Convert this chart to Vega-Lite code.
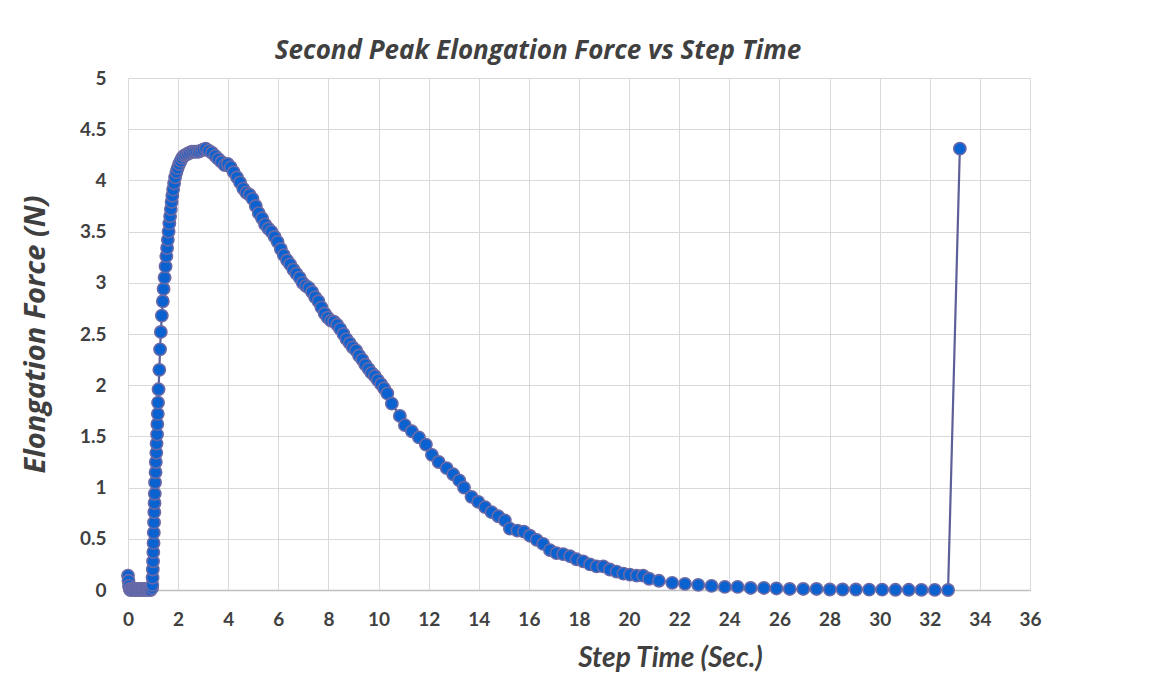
{
  "$schema": "https://vega.github.io/schema/vega-lite/v6.json",
  "autosize": {"type": "none"},
  "padding": {"left": 128, "top": 78, "right": 127, "bottom": 89},
  "width": 902,
  "height": 512,
  "background": "white",
  "title": {
    "text": "Second Peak Elongation Force vs Step Time",
    "font": "Open Sans",
    "fontSize": 26,
    "fontWeight": "bold",
    "fontStyle": "italic",
    "color": "#404040",
    "anchor": "middle",
    "dx": -41,
    "offset": 5
  },
  "data": {
    "values": [
      {"t": 0.00, "f": 0.14}, {"t": 0.02, "f": 0.09}, {"t": 0.04, "f": 0.04}, {"t": 0.07, "f": 0.01},
      {"t": 0.10, "f": 0.0}, {"t": 0.15, "f": 0.01}, {"t": 0.20, "f": 0.0}, {"t": 0.25, "f": 0.01},
      {"t": 0.30, "f": 0.0}, {"t": 0.35, "f": 0.01}, {"t": 0.40, "f": 0.0}, {"t": 0.45, "f": 0.01},
      {"t": 0.50, "f": 0.0}, {"t": 0.55, "f": 0.01}, {"t": 0.60, "f": 0.0}, {"t": 0.65, "f": 0.01},
      {"t": 0.70, "f": 0.0}, {"t": 0.75, "f": 0.01}, {"t": 0.80, "f": 0.0}, {"t": 0.85, "f": 0.01},
      {"t": 0.90, "f": 0.0}, {"t": 0.96, "f": 0.02}, {"t": 0.97, "f": 0.05}, {"t": 0.98, "f": 0.12},
      {"t": 0.99, "f": 0.20}, {"t": 1.00, "f": 0.28}, {"t": 1.01, "f": 0.37}, {"t": 1.02, "f": 0.46},
      {"t": 1.03, "f": 0.56}, {"t": 1.04, "f": 0.66}, {"t": 1.05, "f": 0.76}, {"t": 1.06, "f": 0.85},
      {"t": 1.07, "f": 0.94}, {"t": 1.08, "f": 1.05}, {"t": 1.10, "f": 1.15}, {"t": 1.11, "f": 1.25},
      {"t": 1.13, "f": 1.34}, {"t": 1.14, "f": 1.43}, {"t": 1.16, "f": 1.52}, {"t": 1.17, "f": 1.62},
      {"t": 1.19, "f": 1.72}, {"t": 1.20, "f": 1.83}, {"t": 1.22, "f": 1.96}, {"t": 1.25, "f": 2.15},
      {"t": 1.28, "f": 2.35}, {"t": 1.31, "f": 2.52}, {"t": 1.35, "f": 2.68}, {"t": 1.39, "f": 2.82},
      {"t": 1.42, "f": 2.94}, {"t": 1.46, "f": 3.05}, {"t": 1.50, "f": 3.16}, {"t": 1.53, "f": 3.26},
      {"t": 1.56, "f": 3.34}, {"t": 1.59, "f": 3.42}, {"t": 1.62, "f": 3.50}, {"t": 1.65, "f": 3.58},
      {"t": 1.68, "f": 3.65}, {"t": 1.71, "f": 3.72}, {"t": 1.74, "f": 3.79}, {"t": 1.77, "f": 3.85},
      {"t": 1.80, "f": 3.91}, {"t": 1.84, "f": 3.97}, {"t": 1.88, "f": 4.03}, {"t": 1.93, "f": 4.08},
      {"t": 1.98, "f": 4.12}, {"t": 2.04, "f": 4.16}, {"t": 2.10, "f": 4.19}, {"t": 2.16, "f": 4.22},
      {"t": 2.23, "f": 4.24}, {"t": 2.30, "f": 4.25}, {"t": 2.38, "f": 4.26}, {"t": 2.46, "f": 4.27},
      {"t": 2.55, "f": 4.28}, {"t": 2.64, "f": 4.28}, {"t": 2.73, "f": 4.28}, {"t": 2.82, "f": 4.28},
      {"t": 2.91, "f": 4.29}, {"t": 3.00, "f": 4.30}, {"t": 3.10, "f": 4.31}, {"t": 3.22, "f": 4.29},
      {"t": 3.35, "f": 4.27}, {"t": 3.48, "f": 4.24}, {"t": 3.60, "f": 4.21}, {"t": 3.73, "f": 4.18},
      {"t": 3.86, "f": 4.15}, {"t": 3.98, "f": 4.16}, {"t": 4.10, "f": 4.13}, {"t": 4.22, "f": 4.08},
      {"t": 4.35, "f": 4.03}, {"t": 4.47, "f": 3.98}, {"t": 4.60, "f": 3.92}, {"t": 4.72, "f": 3.88},
      {"t": 4.85, "f": 3.86}, {"t": 4.97, "f": 3.82}, {"t": 5.10, "f": 3.75}, {"t": 5.22, "f": 3.68},
      {"t": 5.35, "f": 3.63}, {"t": 5.47, "f": 3.57}, {"t": 5.60, "f": 3.53}, {"t": 5.72, "f": 3.50},
      {"t": 5.85, "f": 3.45}, {"t": 5.97, "f": 3.40}, {"t": 6.10, "f": 3.33}, {"t": 6.22, "f": 3.27},
      {"t": 6.35, "f": 3.22}, {"t": 6.47, "f": 3.18}, {"t": 6.60, "f": 3.13}, {"t": 6.72, "f": 3.09},
      {"t": 6.85, "f": 3.05}, {"t": 6.97, "f": 3.00}, {"t": 7.10, "f": 2.97}, {"t": 7.22, "f": 2.95},
      {"t": 7.35, "f": 2.91}, {"t": 7.47, "f": 2.86}, {"t": 7.60, "f": 2.82}, {"t": 7.72, "f": 2.76},
      {"t": 7.85, "f": 2.70}, {"t": 7.97, "f": 2.66}, {"t": 8.10, "f": 2.63}, {"t": 8.22, "f": 2.62},
      {"t": 8.35, "f": 2.59}, {"t": 8.47, "f": 2.55}, {"t": 8.60, "f": 2.50}, {"t": 8.72, "f": 2.45},
      {"t": 8.85, "f": 2.41}, {"t": 8.97, "f": 2.37}, {"t": 9.10, "f": 2.34}, {"t": 9.22, "f": 2.29},
      {"t": 9.35, "f": 2.25}, {"t": 9.47, "f": 2.20}, {"t": 9.60, "f": 2.16}, {"t": 9.72, "f": 2.12},
      {"t": 9.85, "f": 2.09}, {"t": 9.97, "f": 2.05}, {"t": 10.10, "f": 2.01}, {"t": 10.22, "f": 1.97},
      {"t": 10.35, "f": 1.92}, {"t": 10.53, "f": 1.82}, {"t": 10.85, "f": 1.70}, {"t": 11.05, "f": 1.61},
      {"t": 11.33, "f": 1.55}, {"t": 11.61, "f": 1.49}, {"t": 11.89, "f": 1.42}, {"t": 12.13, "f": 1.32},
      {"t": 12.40, "f": 1.25}, {"t": 12.72, "f": 1.19}, {"t": 12.98, "f": 1.13}, {"t": 13.22, "f": 1.07},
      {"t": 13.41, "f": 1.00}, {"t": 13.71, "f": 0.91}, {"t": 13.98, "f": 0.86}, {"t": 14.25, "f": 0.81},
      {"t": 14.51, "f": 0.76}, {"t": 14.78, "f": 0.72}, {"t": 15.04, "f": 0.68}, {"t": 15.24, "f": 0.60},
      {"t": 15.54, "f": 0.58}, {"t": 15.80, "f": 0.57}, {"t": 16.04, "f": 0.53}, {"t": 16.31, "f": 0.49},
      {"t": 16.57, "f": 0.45}, {"t": 16.84, "f": 0.39}, {"t": 17.10, "f": 0.36}, {"t": 17.37, "f": 0.35},
      {"t": 17.64, "f": 0.33}, {"t": 17.90, "f": 0.30}, {"t": 18.17, "f": 0.28}, {"t": 18.44, "f": 0.25},
      {"t": 18.70, "f": 0.23}, {"t": 18.97, "f": 0.23}, {"t": 19.23, "f": 0.20}, {"t": 19.50, "f": 0.18},
      {"t": 19.77, "f": 0.16}, {"t": 20.03, "f": 0.15}, {"t": 20.30, "f": 0.14}, {"t": 20.56, "f": 0.14},
      {"t": 20.80, "f": 0.11}, {"t": 21.19, "f": 0.09}, {"t": 21.72, "f": 0.07}, {"t": 22.23, "f": 0.06},
      {"t": 22.76, "f": 0.05}, {"t": 23.29, "f": 0.04}, {"t": 23.82, "f": 0.03}, {"t": 24.33, "f": 0.03},
      {"t": 24.85, "f": 0.02}, {"t": 25.38, "f": 0.02}, {"t": 25.88, "f": 0.015}, {"t": 26.41, "f": 0.01},
      {"t": 26.95, "f": 0.01}, {"t": 27.48, "f": 0.01}, {"t": 28.01, "f": 0.005}, {"t": 28.52, "f": 0.005},
      {"t": 29.05, "f": 0.005}, {"t": 29.58, "f": 0.003}, {"t": 30.10, "f": 0.003}, {"t": 30.63, "f": 0.002},
      {"t": 31.16, "f": 0.002}, {"t": 31.67, "f": 0.001}, {"t": 32.20, "f": 0.001}, {"t": 32.73, "f": 0.0},
      {"t": 33.20, "f": 4.31}
    ]
  },
  "encoding": {
    "x": {
      "field": "t",
      "type": "quantitative",
      "scale": {"domain": [0, 36], "nice": false, "zero": false},
      "axis": {
        "title": "Step Time (Sec.)",
        "values": [0, 2, 4, 6, 8, 10, 12, 14, 16, 18, 20, 22, 24, 26, 28, 30, 32, 34, 36],
        "format": "~g",
        "labelFlush": false,
        "labelOverlap": false,
        "titleX": 542,
        "titleY": 76,
        "titleBaseline": "alphabetic",
        "titleAlign": "center",
        "titleFontSize": 28,
        "labelPadding": 20,
        "domain": true,
        "domainColor": "#BFBFBF",
        "domainWidth": 1.5
      }
    },
    "y": {
      "field": "f",
      "type": "quantitative",
      "scale": {"domain": [0, 5], "nice": false},
      "axis": {
        "title": "Elongation Force (N)",
        "values": [0, 0.5, 1, 1.5, 2, 2.5, 3, 3.5, 4, 4.5, 5],
        "format": "~g",
        "labelFlush": false,
        "labelOverlap": false,
        "titleFont": "Open Sans",
        "titleFontSize": 29,
        "titleX": -84,
        "titleBaseline": "alphabetic",
        "labelPadding": 22,
        "domain": false
      }
    }
  },
  "layer": [
    {
      "mark": {"type": "line", "color": "#5C5F98", "strokeWidth": 2.2, "interpolate": "linear"}
    },
    {
      "mark": {
        "type": "point",
        "shape": "circle",
        "filled": true,
        "fill": "#0A62D0",
        "stroke": "#6A69A6",
        "strokeWidth": 1.6,
        "size": 150,
        "opacity": 1
      }
    }
  ],
  "config": {
    "view": {"stroke": null},
    "axis": {
      "grid": true,
      "gridColor": "#D9D9D9",
      "gridWidth": 1,
      "ticks": false,
      "labelFont": "Lato",
      "labelFontSize": 19,
      "labelFontWeight": "bold",
      "labelColor": "#404040",
      "titleFont": "Lato",
      "titleFontSize": 27,
      "titleFontWeight": "bold",
      "titleFontStyle": "italic",
      "titleColor": "#404040"
    }
  }
}
